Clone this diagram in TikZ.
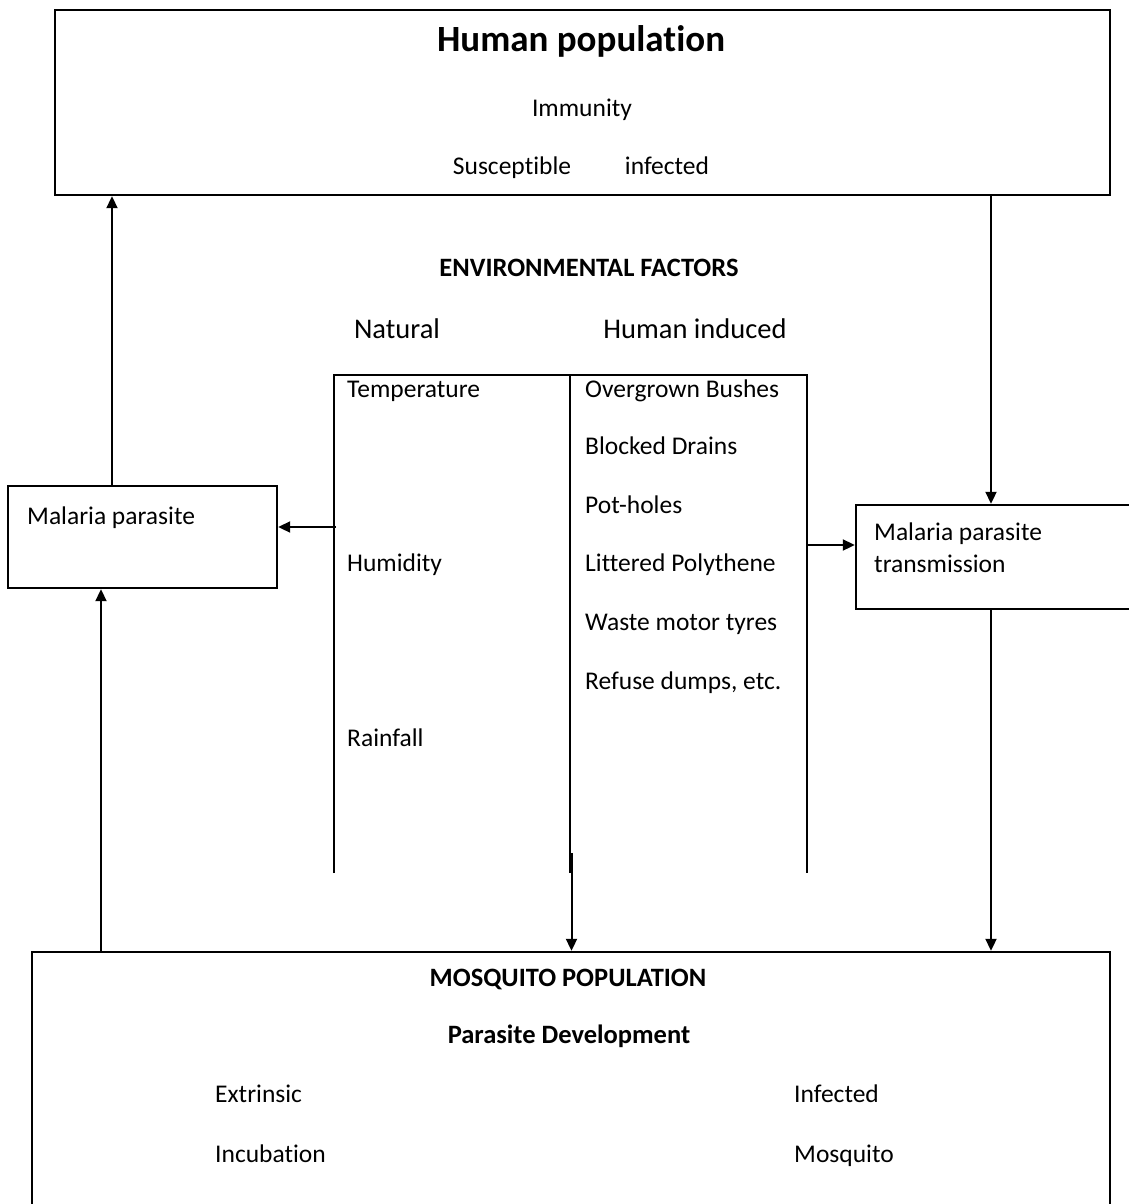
\documentclass[tikz,border=0pt]{standalone}
\usepackage{fontspec}
\setmainfont[Ligatures={NoCommon}]{Carlito}
\usetikzlibrary{arrows.meta}
\begin{document}
\begin{tikzpicture}[x=1pt,y=-1pt,
  box/.style={draw, line width=2.4pt, minimum width=#1, inner sep=0pt},
  txt/.style={inner sep=0pt, anchor=west, text height=0.7em, text depth=0.2em, yshift=-6.5pt, font=\fontsize{25.5}{30}\selectfont},
  ctxt/.style={txt, anchor=center},
  btxt/.style={ctxt, font=\fontsize{26.5}{31}\selectfont\bfseries},
  bigtxt/.style={ctxt, yshift=-3pt, font=\fontsize{37}{44}\selectfont\bfseries},
  midtxt/.style={ctxt, yshift=-1pt, font=\fontsize{28.5}{34}\selectfont},
  arr/.style={line width=2pt, -{Triangle[length=12pt,width=11pt]}},
  tline/.style={line width=2pt}]
\clip (0,0) rectangle (1129,1204);
\fill[white] (0,0) rectangle (1129,1204);

% boxes
\node[box=1055pt, minimum height=185pt] (human) at (582.5,102.5) {};
\node[box=269pt, minimum height=102pt] (mp) at (142.5,537) {};
\node[box=290pt, minimum height=104pt] (tr) at (1001,557) {};
\node[box=1078pt, minimum height=300pt] (mos) at (571,1102) {};

% human population texts
\node[bigtxt] (hp) at (581,40) {Human population};
\node[ctxt] (imm) at (582,108) {Immunity};
\node[ctxt] (sus) at (512,165) {Susceptible};
\node[ctxt] (inf) at (667,165) {infected};

% environmental factors
\node[btxt] (env) at (589,267) {ENVIRONMENTAL FACTORS};
\node[midtxt] (nat) at (397,328) {Natural};
\node[midtxt] (hum) at (695,328) {Human induced};

\coordinate (tl) at (334,375);
\coordinate (tm) at (570,375);
\coordinate (tr0) at (807,375);
\coordinate (bl) at (334,873);
\coordinate (bm) at (570,873);
\coordinate (br) at (807,873);
\draw[tline] (bl) -- (tl) -- (tr0) -- (br);
\draw[tline] (tm) -- (bm);

\node[txt] (t1) at (347,388) {Temperature};
\node[txt] (t2) at (347,562) {Humidity};
\node[txt] (t3) at (347,737) {Rainfall};

\node[txt] (h1) at (585,388) {Overgrown Bushes};
\node[txt] (h2) at (585,445) {Blocked Drains};
\node[txt] (h3) at (585,504) {Pot-holes};
\node[txt] (h4) at (585,562) {Littered Polythene};
\node[txt] (h5) at (585,621) {Waste motor tyres};
\node[txt] (h6) at (585,680) {Refuse dumps, etc.};

% side boxes texts
\node[txt] (mpt) at (27,515) {Malaria parasite};
\node[txt] (trt1) at (874,531) {Malaria parasite};
\node[txt] (trt2) at (874,563) {transmission};

% mosquito texts
\node[btxt] (mpop) at (568,977) {MOSQUITO POPULATION};
\node[btxt] (pdev) at (569,1034) {Parasite Development};
\node[txt] (ext) at (215,1093) {Extrinsic};
\node[txt] (inc) at (215,1153) {Incubation};
\node[txt] (minf) at (794,1093) {Infected};
\node[txt] (mmos) at (794,1153) {Mosquito};

% connectors
\coordinate (ls) at (336,527);
\coordinate (rs) at (807,545);
\coordinate (ms) at (571.5,853);
\draw[arr] (112,0 |- mp.north) -- (112,0 |- human.south);
\draw[arr] (991,0 |- human.south) -- (991,0 |- tr.north);
\draw[arr] (ls) -- (mp.east |- ls);
\draw[arr] (rs) -- (tr.west |- rs);
\draw[arr] (991,0 |- tr.south) -- (991,0 |- mos.north);
\draw[arr] (101,0 |- mos.north) -- (101,0 |- mp.south);
\draw[arr] (ms) -- (ms |- mos.north);
\end{tikzpicture}
\end{document}
